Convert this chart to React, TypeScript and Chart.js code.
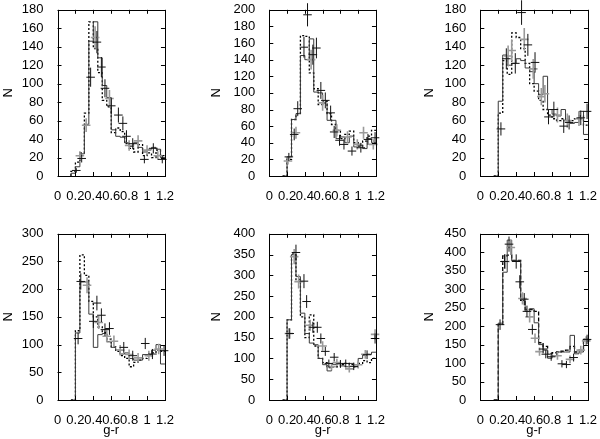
import React, { useEffect, useRef } from "react";
import { Chart, registerables } from "chart.js";

Chart.register(...registerables);

// ---------- data ----------
const binEdges = [0.15, 0.2, 0.25, 0.3, 0.35, 0.4, 0.45, 0.5, 0.55, 0.6, 0.65, 0.7, 0.75, 0.8, 0.85, 0.9, 0.95, 1.0, 1.05, 1.1, 1.15, 1.2];
const xTickValues = [0, 0.2, 0.4, 0.6, 0.8, 1, 1.2];

const p1Solid = [3, 10, 24, 56, 146, 167, 128, 98, 85, 50, 43, 42, 36, 32, 36, 31, 26, 29, 31, 29, 20];
const p1Dotted = [5, 15, 25, 68, 167, 138, 112, 82, 75, 47, 52, 48, 35, 30, 26, 34, 22, 25, 20, 28, 22];
const p1BlackX = [0.21, 0.27, 0.37, 0.44, 0.49, 0.53, 0.6, 0.68, 0.73, 0.77, 0.84, 0.97, 1.07, 1.17];
const p1BlackY = [6, 19, 107, 145, 118, 95, 76, 66, 57, 43, 35, 18, 30, 18];
const p1GrayX = [0.25, 0.32, 0.42, 0.58, 0.8, 0.9, 1.0, 1.12];
const p1GrayY = [22, 55, 150, 84, 33, 38, 28, 22];

const p2Solid = [0, 23, 68, 75, 145, 140, 165, 101, 100, 88, 67, 67, 45, 47, 40, 48, 35, 37, 33, 45, 40];
const p2Dotted = [0, 20, 68, 75, 169, 168, 124, 105, 86, 90, 75, 62, 55, 45, 50, 54, 40, 36, 42, 48, 55];
const p2BlackX = [0.22, 0.28, 0.32, 0.39, 0.43, 0.49, 0.53, 0.58, 0.63, 0.69, 0.73, 0.79, 0.84, 0.93, 1.03, 1.11, 1.19];
const p2BlackY = [23, 50, 81, 155, 194, 146, 154, 103, 91, 76, 53, 43, 38, 30, 34, 44, 46];
const p2GrayX = [0.21, 0.3, 0.47, 0.6, 0.76, 0.88, 0.99, 1.06, 1.17];
const p2GrayY = [18, 52, 140, 88, 55, 47, 38, 52, 38];

const p3Solid = [0, 81, 131, 120, 122, 127, 125, 117, 113, 100, 88, 108, 72, 67, 65, 72, 60, 57, 58, 70, 45];
const p3Dotted = [0, 68, 125, 110, 155, 150, 138, 122, 100, 92, 82, 72, 66, 62, 60, 62, 60, 60, 62, 65, 55];
const p3BlackX = [0.23, 0.29, 0.39, 0.46, 0.53, 0.61, 0.76, 0.82, 0.93, 0.99, 1.12, 1.19];
const p3BlackY = [51, 127, 122, 177, 142, 123, 64, 72, 54, 58, 63, 70];
const p3GrayX = [0.31, 0.35, 0.49, 0.59, 0.68, 0.72, 0.86, 0.97, 1.1];
const p3GrayY = [130, 136, 148, 116, 86, 89, 66, 60, 62];

const p4Solid = [0, 121, 213, 213, 155, 95, 118, 120, 105, 95, 90, 83, 85, 75, 72, 72, 82, 82, 90, 100, 65];
const p4Dotted = [0, 125, 262, 225, 178, 150, 132, 122, 110, 96, 88, 80, 75, 60, 68, 72, 75, 80, 85, 90, 88];
const p4BlackX = [0.23, 0.26, 0.4, 0.44, 0.49, 0.53, 0.58, 0.74, 0.84, 0.98, 1.06, 1.19];
const p4BlackY = [111, 214, 142, 175, 153, 127, 129, 95, 80, 102, 83, 89];
const p4GrayX = [0.33, 0.46, 0.55, 0.63, 0.7, 0.8, 0.9, 1.02, 1.13];
const p4GrayY = [207, 140, 115, 106, 90, 82, 76, 80, 92];

const p5Solid = [0, 193, 350, 297, 209, 160, 137, 133, 100, 85, 70, 85, 88, 82, 80, 88, 80, 100, 108, 110, 115];
const p5Dotted = [0, 193, 352, 290, 200, 150, 205, 130, 100, 90, 78, 80, 80, 85, 88, 85, 80, 88, 95, 90, 100];
const p5BlackX = [0.23, 0.3, 0.39, 0.42, 0.49, 0.54, 0.58, 0.63, 0.67, 0.73, 0.8, 0.86, 0.95, 1.1, 1.19];
const p5BlackY = [160, 355, 286, 237, 175, 175, 148, 117, 88, 103, 87, 88, 81, 109, 148];
const p5GrayX = [0.22, 0.28, 0.33, 0.46, 0.6, 0.7, 0.76, 0.9, 1.0, 1.08, 1.19];
const p5GrayY = [160, 345, 285, 180, 130, 80, 90, 75, 85, 110, 158];

const p6Solid = [0, 208, 346, 433, 377, 377, 275, 240, 247, 209, 150, 135, 113, 120, 130, 130, 130, 175, 125, 130, 165];
const p6Dotted = [0, 205, 390, 392, 378, 378, 270, 245, 245, 240, 155, 145, 125, 128, 130, 132, 135, 145, 130, 135, 160];
const p6BlackX = [0.22, 0.27, 0.32, 0.4, 0.44, 0.49, 0.52, 0.58, 0.7, 0.73, 0.79, 0.91, 0.96, 1.04, 1.19];
const p6BlackY = [204, 375, 422, 375, 320, 273, 240, 191, 138, 124, 117, 98, 96, 115, 164];
const p6GrayX = [0.28, 0.34, 0.47, 0.55, 0.61, 0.66, 0.86, 1.0, 1.12, 1.18];
const p6GrayY = [375, 413, 275, 225, 167, 131, 120, 110, 135, 160];

const yMaxes = [180, 200, 180, 300, 400, 450];
const ySteps = [20, 20, 20, 50, 50, 50];
const yTitle = "N";
const xTitle = "g-r";

// ---------- layout (positions / styles) ----------
const FONT = "'Liberation Sans', Arial, Helvetica, sans-serif";
const FONT_SIZE = 13;
const colLeft = [1, 209, 422];
const colPlotLeft = [57.5, 269.3, 480.3];
const colPlotRight = [166.5, 377.3, 589.3];
const rowTop = [-4, 220];
const rowPadTop = [10.5, 11];
const rowPlotH = [169.5, 169];
const rowXAxisH = [24, 38];
const CROSS_HALF = 0.048;

const panels = [
  { solid: p1Solid, dotted: p1Dotted, bx: p1BlackX, by: p1BlackY, gx: p1GrayX, gy: p1GrayY, dash: [2, 2] },
  { solid: p2Solid, dotted: p2Dotted, bx: p2BlackX, by: p2BlackY, gx: p2GrayX, gy: p2GrayY, dash: [2, 2] },
  { solid: p3Solid, dotted: p3Dotted, bx: p3BlackX, by: p3BlackY, gx: p3GrayX, gy: p3GrayY, dash: [2, 2] },
  { solid: p4Solid, dotted: p4Dotted, bx: p4BlackX, by: p4BlackY, gx: p4GrayX, gy: p4GrayY, dash: [2, 2] },
  { solid: p5Solid, dotted: p5Dotted, bx: p5BlackX, by: p5BlackY, gx: p5GrayX, gy: p5GrayY, dash: [2, 2] },
  { solid: p6Solid, dotted: p6Dotted, bx: p6BlackX, by: p6BlackY, gx: p6GrayX, gy: p6GrayY, dash: [4, 2] },
];

function stepPoints(vals: number[]) {
  const pts: { x: number; y: number }[] = [{ x: binEdges[0], y: 0 }];
  vals.forEach((v, i) => pts.push({ x: binEdges[i], y: v }));
  pts.push({ x: binEdges[binEdges.length - 1], y: vals[vals.length - 1] });
  return pts;
}

const framePlugin = {
  id: "gnuframe",
  afterDatasetsDraw(chart: any) {
    const { ctx, chartArea: a, scales } = chart;
    const xs = scales.x;
    const ys = scales.y;
    ctx.save();
    // crosses with error bars
    chart.data.datasets.forEach((ds: any) => {
      if (!ds.crossColor) return;
      ctx.strokeStyle = ds.crossColor;
      ctx.lineWidth = ds.crossWidth;
      ctx.setLineDash([]);
      ctx.beginPath();
      ds.data.forEach((p: any) => {
        const x0 = xs.getPixelForValue(p.x - CROSS_HALF);
        const x1 = xs.getPixelForValue(p.x + CROSS_HALF);
        const xc = xs.getPixelForValue(p.x);
        const y = ys.getPixelForValue(p.y);
        const e = Math.sqrt(p.y);
        const ya = ys.getPixelForValue(p.y + e);
        const yb = ys.getPixelForValue(Math.max(0, p.y - e));
        ctx.moveTo(x0, y);
        ctx.lineTo(x1, y);
        ctx.moveTo(xc, ya);
        ctx.lineTo(xc, yb);
      });
      ctx.stroke();
    });
    // frame and inward ticks on all sides
    ctx.strokeStyle = "#000";
    ctx.lineWidth = 1;
    ctx.beginPath();
    const L = 4;
    xs.ticks.forEach((t: any) => {
      const px = Math.round(xs.getPixelForValue(t.value)) + 0.5;
      ctx.moveTo(px, a.bottom);
      ctx.lineTo(px, a.bottom - L);
      ctx.moveTo(px, a.top);
      ctx.lineTo(px, a.top + L);
    });
    ys.ticks.forEach((t: any) => {
      const py = Math.round(ys.getPixelForValue(t.value)) + 0.5;
      ctx.moveTo(a.left, py);
      ctx.lineTo(a.left + L, py);
      ctx.moveTo(a.right, py);
      ctx.lineTo(a.right - L, py);
    });
    ctx.stroke();
    ctx.strokeRect(Math.round(a.left) + 0.5, Math.round(a.top) + 0.5, Math.round(a.width), Math.round(a.height));
    ctx.restore();
  },
};

function Panel({ idx }: { idx: number }) {
  const ref = useRef<HTMLCanvasElement>(null);
  const col = idx % 3;
  const row = Math.floor(idx / 3);
  const left = colLeft[col];
  const yAxisW = colPlotLeft[col] - left;
  const plotW = colPlotRight[col] - colPlotLeft[col];
  const width = Math.ceil(yAxisW + plotW + 12);
  const padRight = width - yAxisW - plotW;
  const height = Math.round(rowPadTop[row] + rowPlotH[row] + rowXAxisH[row]);
  const xAxisH = height - rowPadTop[row] - rowPlotH[row];

  useEffect(() => {
    const p = panels[idx];
    const font = { family: FONT, size: FONT_SIZE };
    const chart = new Chart(ref.current as HTMLCanvasElement, {
      type: "line",
      data: {
        datasets: [
          {
            data: stepPoints(p.solid),
            stepped: "before",
            borderColor: "#3a3a3a",
            borderWidth: 1,
            pointRadius: 0,
            fill: false,
          } as any,
          {
            data: stepPoints(p.dotted),
            stepped: "before",
            borderColor: "#000",
            borderWidth: 1.3,
            borderDash: p.dash,
            pointRadius: 0,
            fill: false,
          } as any,
          {
            type: "scatter",
            data: p.gx.map((x, i) => ({ x, y: p.gy[i] })),
            pointRadius: 0,
            showLine: false,
            crossColor: "#9a9a9a",
            crossWidth: 1.6,
          } as any,
          {
            type: "scatter",
            data: p.bx.map((x, i) => ({ x, y: p.by[i] })),
            pointRadius: 0,
            showLine: false,
            crossColor: "#111",
            crossWidth: 1,
          } as any,
        ],
      },
      options: {
        animation: false,
        responsive: false,
        devicePixelRatio: 1,
        layout: { padding: { top: rowPadTop[row], right: padRight, bottom: 0, left: 0 } },
        plugins: { legend: { display: false }, tooltip: { enabled: false } },
        scales: {
          x: {
            type: "linear",
            min: 0,
            max: 1.2,
            grid: { display: false },
            border: { display: false },
            afterBuildTicks: (s: any) => {
              s.ticks = xTickValues.map((v) => ({ value: v }));
            },
            afterFit: (s: any) => {
              s.height = xAxisH;
            },
            ticks: {
              autoSkip: false,
              maxRotation: 0,
              minRotation: 0,
              padding: 5,
              color: "#000",
              font,
              callback: (v: any) => String(Number(Number(v).toFixed(2))),
            },
            title: row === 1 ? { display: true, text: xTitle, color: "#000", font, padding: 0 } : { display: false },
          },
          y: {
            min: 0,
            max: yMaxes[idx],
            grid: { display: false },
            border: { display: false },
            afterFit: (s: any) => {
              s.width = yAxisW;
            },
            ticks: { stepSize: ySteps[idx], autoSkip: false, padding: 6, color: "#000", font },
            title: { display: true, text: yTitle, color: "#000", font, padding: 0 },
          },
        },
      } as any,
      plugins: [framePlugin],
    });
    return () => chart.destroy();
  }, [idx]);

  return (
    <canvas
      ref={ref}
      width={width}
      height={height}
      style={{ position: "absolute", left, top: rowTop[row], width, height }}
    />
  );
}

export default function App() {
  return (
    <div
      style={{
        position: "absolute",
        left: 0,
        top: 0,
        width: 600,
        height: 439,
        overflow: "hidden",
        background: "#fff",
      }}
    >
      {[0, 1, 2, 3, 4, 5].map((i) => (
        <Panel key={i} idx={i} />
      ))}
    </div>
  );
}
